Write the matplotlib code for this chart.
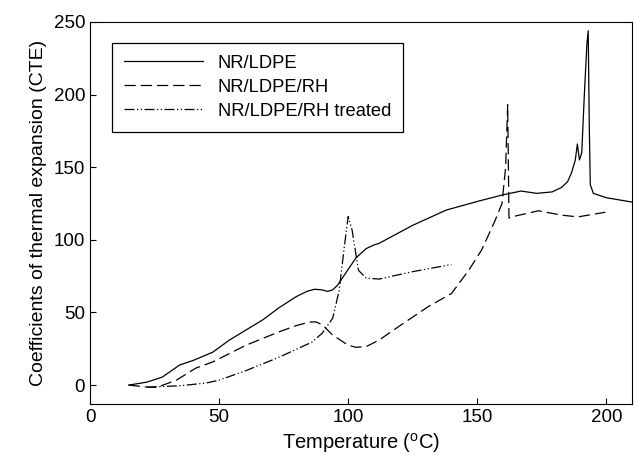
import matplotlib
matplotlib.use("Agg")
import matplotlib.pyplot as plt

plt.rcParams['font.family'] = ['Liberation Sans', 'DejaVu Sans']
plt.rcParams['mathtext.fontset'] = 'custom'
plt.rcParams['mathtext.rm'] = 'Liberation Sans'

# NR/LDPE (solid)
t_ldpe = [15, 22, 28, 34.7, 40, 47.6, 54, 60.5, 67, 73, 80, 84, 87, 90, 92, 94, 96, 99, 103, 107,
          110, 112, 125, 138, 150.6, 160, 167, 173, 179, 182.6, 185, 186.5, 188, 188.8, 189.6,
          190.5, 191.5, 192.5, 193, 193.4, 193.8, 195, 200, 210]
cte_ldpe = [0, 2, 5.5, 13.8, 17, 22.7, 31, 38, 45, 53, 61, 64.5, 66, 65.5, 64.5, 65.5, 69, 77, 87.5,
            94, 96.5, 97.6, 110, 120.5, 126.7, 131, 133.6, 132, 133, 136, 140, 146, 155, 166, 155,
            160, 200, 235, 244, 180, 138, 132, 129, 126]

# NR/LDPE/RH (dashed)
t_rh = [15, 22, 26, 33.5, 41, 47.6, 60.5, 73, 80, 85, 87.5, 90, 94, 100, 103, 107, 112, 118.5, 131,
        140, 146.7, 151.7, 157, 159.6, 161, 161.8, 162.3, 164.8, 173.7, 182.7, 189, 199.6]
cte_rh = [0, -1.4, -1.5, 3.4, 11.7, 16, 27.5, 36.5, 41, 43.4, 43.5, 41.5, 34.4, 27.5, 26, 26.5, 31,
          39, 54, 63, 79, 93, 113.6, 125, 150, 193, 115, 116.4, 120, 117, 115.8, 119]

# NR/LDPE/RH treated (dash-dot-dot)
t_tr = [22, 34.7, 45, 50, 60.5, 73, 86, 90, 94, 96.5, 98.5, 100, 101.5, 104, 107, 112, 124.7, 140]
cte_tr = [-1.4, -0.5, 1.4, 3.4, 10, 19, 29.6, 35.8, 46, 65, 95, 116, 107, 79, 73.6, 73, 78, 83]

fig = plt.figure(figsize=(6.34, 4.58), dpi=100)
ax = fig.add_axes([0.142, 0.118, 0.855, 0.834])

ax.plot(t_ldpe, cte_ldpe, color='black', lw=0.9, label='NR/LDPE')
ax.plot(t_rh, cte_rh, color='black', lw=0.9, linestyle=(0, (9, 4)), label='NR/LDPE/RH')
ax.plot(t_tr, cte_tr, color='black', lw=0.9, linestyle=(0, (8, 2, 1, 2, 1, 2)),
        label='NR/LDPE/RH treated')

ax.set_xlim(0, 210)
ax.set_ylim(-13, 250)
ax.set_xticks([0, 50, 100, 150, 200])
ax.set_yticks([0, 50, 100, 150, 200, 250])
ax.tick_params(direction='in', labelsize=13.5, length=4, top=False, right=False)
ax.set_xlabel(r'Temperature ($^{\rm o}$C)', fontsize=14.5, labelpad=4)
ax.set_ylabel('Coefficients of thermal expansion (CTE)', fontsize=14, labelpad=5)

leg = ax.legend(loc='upper left', bbox_to_anchor=(0.041, 0.945), fontsize=13.2,
                handlelength=4.3, frameon=True, fancybox=False, edgecolor='black',
                framealpha=1, borderpad=0.65, labelspacing=0.38, borderaxespad=0)
leg.get_frame().set_linewidth(0.9)

fig.savefig('out.png', dpi=100)
